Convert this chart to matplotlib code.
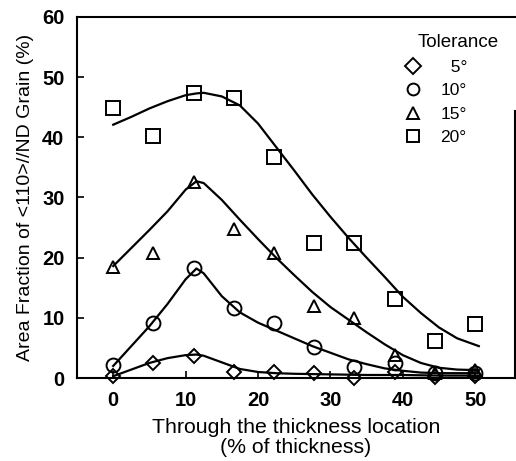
import matplotlib
matplotlib.use("Agg")
import matplotlib.pyplot as plt

plt.rcParams['font.family'] = ['Liberation Sans', 'DejaVu Sans']

# measured locations (% of thickness)
loc = [0, 5.56, 11.11, 16.67, 22.22, 27.78, 33.33, 38.89, 44.44, 50]

tol_5 = [0.3, 2.5, 3.7, 1.0, 1.0, 0.8, 0.0, 1.0, 0.2, 0.3]
tol_10 = [2.2, 9.2, 18.2, 11.7, 9.2, 5.2, 1.8, 2.5, 0.8, 0.8]
tol_15 = [18.5, 20.7, 32.5, 24.7, 20.7, 12.0, 10.0, 3.8, 0.8, 1.4]
tol_20 = [44.8, 40.2, 47.3, 46.5, 36.8, 22.5, 22.5, 13.2, 6.2, 9.0]

# hand-drawn trend curves
fit_x = [0, 2.5, 5, 7.5, 10, 11.5, 12.5, 15, 17.5, 20, 22.5, 25, 27.5, 30,
         32.5, 35, 37.5, 40, 42.5, 45, 47.5, 50.5]
fit_5 = [0.3, 1.4, 2.5, 3.3, 3.8, 3.9, 3.7, 2.6, 1.5, 1.0, 0.8, 0.7, 0.65, 0.6,
         0.55, 0.5, 0.5, 0.5, 0.45, 0.4, 0.4, 0.4]
fit_10 = [2.0, 5.3, 8.6, 12.3, 16.4, 18.2, 17.4, 13.6, 10.9, 9.2, 7.9, 6.6, 5.3, 4.2,
          3.1, 2.3, 1.6, 1.2, 0.9, 0.8, 0.8, 0.8]
fit_15 = [18.6, 21.6, 24.6, 27.7, 31.3, 32.7, 32.4, 29.6, 26.3, 23.1, 20.0, 17.1, 14.3, 11.8,
          9.7, 7.6, 5.6, 3.8, 2.5, 1.7, 1.4, 1.3]
fit_20 = [42.1, 43.4, 44.8, 46.0, 47.0, 47.3, 47.4, 46.8, 45.3, 42.3, 38.4, 34.5, 30.5, 26.8,
          23.3, 20.0, 16.8, 13.5, 10.8, 8.4, 6.6, 5.3]

labels = ['  5\u00b0', '10\u00b0', '15\u00b0', '20\u00b0']
markers = ['D', 'o', '^', 's']
sizes = [7, 10, 9, 10]

fig = plt.figure(figsize=(5.16, 4.61), dpi=100)
ax = fig.add_axes([77/516, 83/461, 438/516, 361/461])

for ys, fy, m, ms, lab in zip([tol_5, tol_10, tol_15, tol_20],
                              [fit_5, fit_10, fit_15, fit_20], markers, sizes, labels):
    ax.plot(fit_x, fy, '-', color='black', linewidth=1.6)
    ax.plot(loc, ys, m, markersize=ms, markerfacecolor='none', markeredgecolor='black',
            markeredgewidth=1.4, label=lab, clip_on=False, linestyle='none')

ax.set_xlim(-5, 55.5)
ax.set_ylim(0, 60)
ax.set_xticks([0, 10, 20, 30, 40, 50])
ax.set_yticks([0, 10, 20, 30, 40, 50, 60])
ax.tick_params(direction='in', length=5, width=1.2, labelsize=14.5, pad=9)
for t in ax.get_xticklabels() + ax.get_yticklabels():
    t.set_fontweight('bold')
for s in ax.spines.values():
    s.set_linewidth(1.5)
ax.spines['right'].set_bounds(0, 44.3)

ax.set_xlabel('Through the thickness location\n(% of thickness)', fontsize=15.3, labelpad=6,
              linespacing=1.05)
ax.set_ylabel('Area Fraction of <110>//ND Grain (%)', fontsize=14, labelpad=6)

ax.text(0.87, 0.928, 'Tolerance', transform=ax.transAxes, ha='center', va='center',
        fontsize=13.5)
leg = ax.legend(loc='upper left', bbox_to_anchor=(0.719, 0.915),
                frameon=False, fontsize=12.5, handletextpad=1.1,
                labelspacing=0.48, handlelength=1.0, borderpad=0.2)
for h in leg.legend_handles:
    h.set_markersize(8.5)

plt.savefig('out.png', dpi=100)
